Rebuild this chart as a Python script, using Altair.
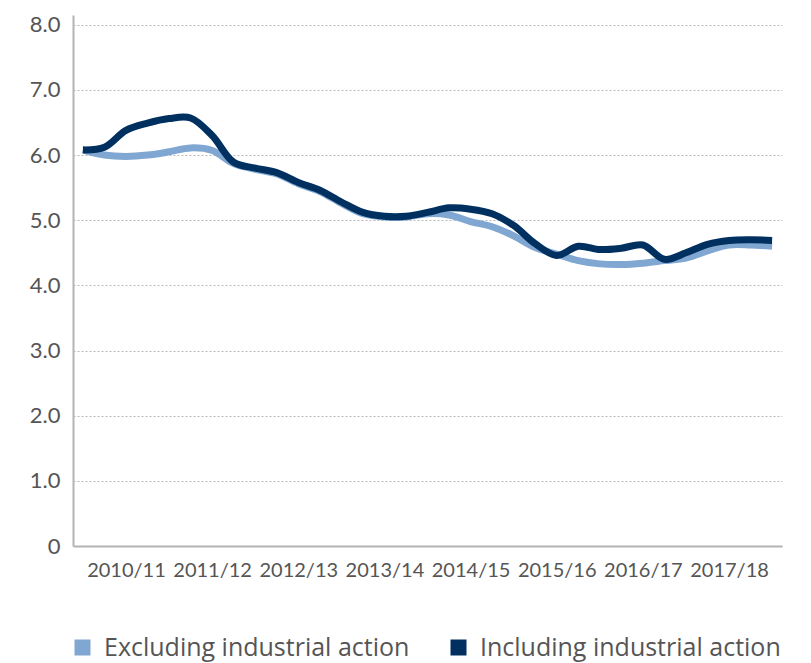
import altair as alt
import pandas as pd

years = ["2010/11", "2011/12", "2012/13", "2013/14", "2014/15", "2015/16", "2016/17", "2017/18"]
series_names = ["Excluding industrial action", "Including industrial action"]

# quarterly points, 33 positions (0..32)
including = [6.08, 6.12, 6.38, 6.49, 6.56, 6.57, 6.30, 5.89, 5.80, 5.73, 5.58,
             5.46, 5.28, 5.12, 5.06, 5.06, 5.12, 5.19, 5.17, 5.10, 4.92, 4.64,
             4.46, 4.60, 4.55, 4.57, 4.62, 4.40, 4.50, 4.63, 4.69, 4.70, 4.69]
excluding = [6.08, 6.00, 5.98, 6.00, 6.05, 6.11, 6.07, 5.87, 5.78, 5.71, 5.56,
             5.44, 5.26, 5.10, 5.05, 5.05, 5.10, 5.08, 4.98, 4.90, 4.76, 4.58,
             4.48, 4.38, 4.33, 4.32, 4.34, 4.38, 4.42, 4.53, 4.62, 4.62, 4.60]

rows = []
for i, v in enumerate(excluding):
    rows.append({"q": i, "value": v, "series": series_names[0], "order": 0})
for i, v in enumerate(including):
    rows.append({"q": i, "value": v, "series": series_names[1], "order": 1})
df = pd.DataFrame(rows)

label_pos = [2 + 4 * k for k in range(len(years))]
label_expr = "[" + ",".join("'%s'" % y for y in years) + "][round((datum.value - 2) / 4)]"

font = "Lato"
grey = "#555555"

chart = alt.Chart(df).mark_line(strokeWidth=7, interpolate="catmull-rom").encode(
    x=alt.X("q:Q", scale=alt.Scale(domain=[-0.46, 32.46], nice=False, zero=False),
            axis=alt.Axis(values=label_pos, labelExpr=label_expr, title=None, grid=False,
                          ticks=False, labelPadding=14, labelFontSize=20, labelColor=grey,
                          labelFont=font, domainColor="#b3b3b3", domainWidth=2)),
    y=alt.Y("value:Q", scale=alt.Scale(domain=[0, 8.15], nice=False),
            axis=alt.Axis(values=[0, 1, 2, 3, 4, 5, 6, 7, 8],
                          labelExpr="datum.value == 0 ? '0' : format(datum.value, '.1f')",
                          title=None, ticks=False, labelPadding=13, labelFontSize=22,
                          labelColor=grey, labelFont=font, domainColor="#b3b3b3", domainWidth=2,
                          gridColor="#b8b8b8", gridDash=[2, 2], gridWidth=1)),
    color=alt.Color("series:N", scale=alt.Scale(domain=series_names, range=["#80a7d1", "#00305f"]),
                    legend=alt.Legend(title=None, orient="none", legendX=-3, legendY=620,
                                      direction="horizontal", symbolType="square", symbolSize=49,
                                      symbolStrokeWidth=9, labelFontSize=25, labelColor=grey,
                                      labelFont="Open Sans", columnPadding=27, labelOffset=9,
                                      labelLimit=0)),
    order=alt.Order("order:Q"),
).properties(
    width=709, height=531,
    autosize=alt.AutoSizeParams(type="none"),
    padding={"left": 65, "top": 7, "right": 21, "bottom": 117},
).configure_view(stroke=None).configure_axisX(grid=False)

chart.save("out.html", embed_options={"renderer": "svg", "actions": False})
